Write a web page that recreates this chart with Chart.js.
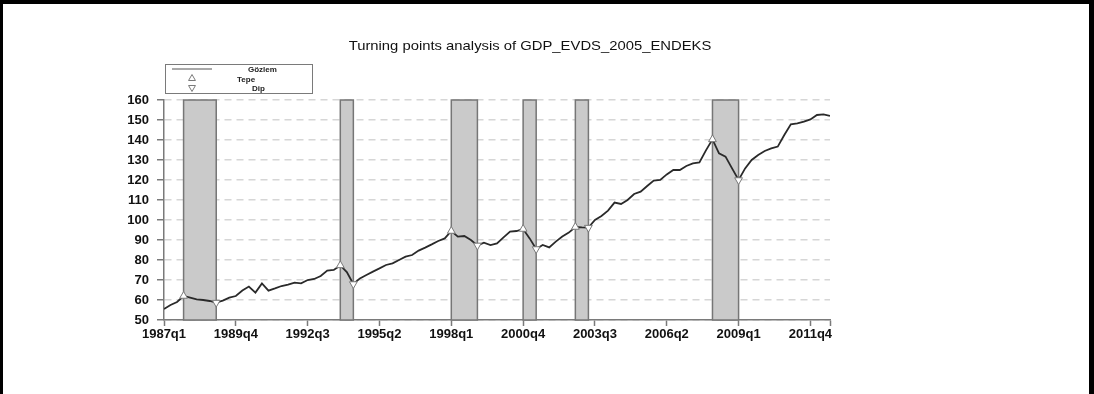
<!DOCTYPE html>
<html>
<head>
<meta charset="utf-8">
<script src="https://cdn.jsdelivr.net/npm/chart.js@4/dist/chart.umd.min.js"></script>
<style>
  html, body { margin: 0; padding: 0; background: #fff; }
  #wrap { position: relative; width: 1094px; height: 394px; }
  #frame { position: absolute; left: 0; top: 0; width: 1094px; height: 394px; box-sizing: border-box;
           border-top: 4px solid #000; border-left: 3px solid #000; border-right: 5px solid #000; pointer-events: none; }
</style>
</head>
<body>
<div id="wrap">
  <canvas id="chart" width="1094" height="394"></canvas>
  <div id="frame"></div>
</div>
<script>
// quarters 1987q1 .. 2012q3
const quarters = [];
for (let yr = 1987; yr <= 2012; yr++) {
    for (let q = 1; q <= 4; q++) quarters.push(yr + 'q' + q);
}
quarters.length = 103;

const gdp = [
    55.5, 57.5, 59.0, 62.0,   61.2, 60.3, 60.0, 59.5,   58.7, 59.7, 61.2, 62.0,
    64.7, 66.7, 63.7, 68.3,   64.7, 65.8, 67.0, 67.7,   68.7, 68.3, 70.0, 70.5,
    72.0, 74.7, 75.0, 77.3,   74.0, 68.0, 70.8, 72.5,   74.2, 75.8, 77.5, 78.3,
    80.0, 81.7, 82.5, 84.7,   86.2, 87.8, 89.5, 90.8,   94.5, 91.7, 92.0, 90.0,
    87.3, 88.7, 87.5, 88.3,   91.3, 94.2, 94.5, 95.5,   90.8, 85.5, 87.5, 86.3,
    89.2, 91.7, 93.7, 96.5,   96.3, 96.2, 100.0, 102.0, 104.7, 108.7, 108.0, 110.0,
    113.0, 114.2, 117.0, 119.7, 120.0, 122.8, 125.0, 125.0, 127.0, 128.3, 128.8, 134.8,
    140.3, 133.3, 131.7, 125.8, 120.0, 125.8, 130.0, 132.5, 134.5, 135.8, 136.7, 142.5,
    147.8, 148.3, 149.2, 150.3, 152.5, 152.8, 152.0
];

const peaks = ['1987q4', '1993q4', '1998q1', '2000q4', '2002q4', '2008q1'];
const troughs = ['1989q1', '1994q2', '1999q1', '2001q2', '2003q2', '2009q1'];

const tickLabels = ['1987q1', '1989q4', '1992q3', '1995q2', '1998q1',
                    '2000q4', '2003q3', '2006q2', '2009q1', '2011q4'];

const titleText = 'Turning points analysis of GDP_EVDS_2005_ENDEKS';
const FONT = '"Liberation Sans", Arial, sans-serif';

const bandsPlugin = {
    id: 'bands',
    beforeDatasetsDraw(chart) {
        const {ctx, chartArea, scales: {x}} = chart;
        ctx.save();
        peaks.forEach((p, k) => {
            const x0 = x.getPixelForValue(quarters.indexOf(p));
            const x1 = x.getPixelForValue(quarters.indexOf(troughs[k]));
            ctx.fillStyle = '#cacaca';
            ctx.fillRect(x0, chartArea.top, x1 - x0, chartArea.bottom - chartArea.top);
            ctx.strokeStyle = '#767676';
            ctx.lineWidth = 1.5;
            ctx.strokeRect(x0, chartArea.top, x1 - x0, chartArea.bottom - chartArea.top);
        });
        ctx.restore();
    }
};

function tri(ctx, cx, cy, r, down) {
    const s = down ? -1 : 1;
    ctx.beginPath();
    ctx.moveTo(cx, cy - s * r);
    ctx.lineTo(cx + r * 0.866, cy + s * r * 0.5);
    ctx.lineTo(cx - r * 0.866, cy + s * r * 0.5);
    ctx.closePath();
    ctx.fillStyle = '#fff';
    ctx.fill();
    ctx.strokeStyle = '#7a7a7a';
    ctx.lineWidth = 1;
    ctx.stroke();
}

const decorPlugin = {
    id: 'decor',
    afterDraw(chart) {
        const ctx = chart.ctx;
        ctx.save();
        // title, slightly stretched like the original
        ctx.fillStyle = '#111';
        ctx.font = '13px ' + FONT;
        ctx.textAlign = 'center';
        ctx.textBaseline = 'middle';
        ctx.save();
        ctx.translate(530, 46);
        ctx.scale(1.14, 1);
        ctx.fillText(titleText, 0, 0);
        ctx.restore();

        // legend box
        ctx.strokeStyle = '#7a7a7a';
        ctx.lineWidth = 1;
        ctx.strokeRect(165.5, 64.5, 147, 29);
        ctx.strokeStyle = '#555';
        ctx.lineWidth = 1.2;
        ctx.beginPath();
        ctx.moveTo(172, 69);
        ctx.lineTo(212, 69);
        ctx.stroke();
        tri(ctx, 192, 78.5, 4, false);
        tri(ctx, 192, 87.5, 4, true);

        const ds = chart.data.datasets;
        ctx.fillStyle = '#222';
        ctx.font = 'bold 8px ' + FONT;
        ctx.textAlign = 'left';
        ctx.fillText(ds[2].label, 248, 70);
        ctx.fillText(ds[0].label, 237, 79.5);
        ctx.fillText(ds[1].label, 252, 89);
        ctx.restore();
    }
};

const ctx = document.getElementById('chart').getContext('2d');
const chart = new Chart(ctx, {
    type: 'line',
    data: {
        datasets: [
            {
                label: 'Tepe',
                type: 'scatter',
                data: peaks.map(p => ({x: quarters.indexOf(p), y: gdp[quarters.indexOf(p)]})),
                pointStyle: 'triangle',
                pointRadius: 4.5,
                pointBackgroundColor: '#fff',
                pointBorderColor: '#7a7a7a',
                pointBorderWidth: 1,
                order: 0,
            },
            {
                label: 'Dip',
                type: 'scatter',
                data: troughs.map(p => ({x: quarters.indexOf(p), y: gdp[quarters.indexOf(p)]})),
                pointStyle: 'triangle',
                pointRotation: 180,
                pointRadius: 4.5,
                pointBackgroundColor: '#fff',
                pointBorderColor: '#7a7a7a',
                pointBorderWidth: 1,
                order: 0,
            },
            {
                label: 'Gözlem',
                data: gdp.map((v, i) => ({x: i, y: v})),
                borderColor: '#2a2a2a',
                borderWidth: 1.8,
                pointRadius: 0,
                tension: 0,
                fill: false,
                order: 1,
            },
        ]
    },
    options:
    {
        responsive: false,
        animation: false,
        devicePixelRatio: 1,
        layout:
        {
            padding: {left: 0, right: 264, top: 100, bottom: 0}
        },
        plugins:
        {
            legend: {display: false},
            title: {display: false},
            tooltip: {enabled: false},
        },
        scales:
        {
            x:
            {
                type: 'linear',
                min: 0,
                max: quarters.length - 1,
                afterFit: (scale) => { scale.height = 74; },
                afterBuildTicks: (scale) => {
                    scale.ticks = tickLabels.map(l => ({value: quarters.indexOf(l)}))
                        .concat([{value: quarters.length - 1}]);
                },
                grid:
                {
                    drawOnChartArea: false,
                    drawTicks: true,
                    tickLength: 6,
                    tickColor: '#7a7a7a',
                    tickWidth: 1.5,
                },
                border: {color: '#7a7a7a', width: 1.5},
                ticks:
                {
                    autoSkip: false,
                    maxRotation: 0,
                    padding: 1,
                    color: '#111',
                    font: {family: FONT, size: 13, weight: 'bold'},
                    callback: (v) => tickLabels.includes(quarters[v]) ? quarters[v] : '',
                }
            },
            y:
            {
                type: 'linear',
                min: 50,
                max: 160,
                afterFit: (scale) => { scale.width = 164; },
                ticks:
                {
                    stepSize: 10,
                    padding: 8,
                    color: '#111',
                    font: {family: FONT, size: 13, weight: 'bold'},
                },
                grid:
                {
                    color: '#d6d6d6',
                    lineWidth: 1.5,
                    tickLength: 7,
                    tickColor: '#7a7a7a',
                    tickWidth: 1.5,
                    tickBorderDash: [],
                },
                border: {color: '#7a7a7a', width: 1.5, dash: [7, 5]},
            },
        },
    },
    plugins: [bandsPlugin, decorPlugin],
});
</script>
</body>
</html>
